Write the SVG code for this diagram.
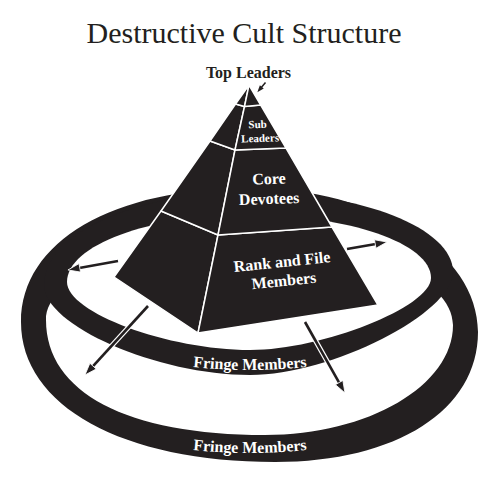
<svg xmlns="http://www.w3.org/2000/svg" xmlns:xlink="http://www.w3.org/1999/xlink" width="499" height="478" viewBox="0 0 499 478">
<style>
.ink{fill:#231f20}
.face{fill:#231f20;stroke:#ffffff;stroke-width:1.5;stroke-linejoin:round}
.wt{fill:#ffffff;font-family:"Liberation Serif","Times New Roman",serif;font-weight:bold;text-anchor:middle}
.bt{fill:#231f20;font-family:"Liberation Serif","Times New Roman",serif;text-anchor:middle}
.case{stroke:#ffffff;stroke-width:5;fill:none}
.shaft{stroke:#231f20;stroke-width:2.6;fill:none}
</style>
<defs>
<marker id="ah" viewBox="0 0 14 10" refX="3" refY="5" markerWidth="14" markerHeight="10" markerUnits="userSpaceOnUse" orient="auto">
<path d="M1,0.7 L13,5 L1,9.3 Z" fill="#231f20" stroke="#ffffff" stroke-width="0.8"/>
</marker>
<marker id="ahs" viewBox="0 0 8 6" refX="2" refY="3" markerWidth="8" markerHeight="6" markerUnits="userSpaceOnUse" orient="auto">
<path d="M0.5,0.5 L7.5,3 L0.5,5.5 Z" fill="#231f20"/>
</marker>
<path id="arcUpper" d="M170,364 Q250,376 330,364"/>
<path id="arcLower" d="M170,447 Q250,459 330,447"/>
</defs>
<rect width="499" height="478" fill="#ffffff"/>
<text class="bt" x="244" y="43" font-size="30">Destructive Cult Structure</text>

<g id="fringe-outer">
<path class="ink" fill-rule="evenodd" d="M21,322 C21,406 122.6,462 275,462 C396.8,462 478,410 478,332 C478,252.8 375.4,188 250,188 C112.6,188 21,241.6 21,322 Z M46,320 C46,392.5 127,435 265,435 C368.4,435 453,385.5 453,325 C453,278.3 361.7,240 250,240 C137.8,240 46,276 46,320 Z"/>
<text class="wt" font-size="16"><textPath xlink:href="#arcLower" href="#arcLower" startOffset="50%">Fringe Members</textPath></text>
</g>

<g id="fringe-inner">
<path class="ink" d="M44,285 C44,325.5 157.3,375 250,375 C331.2,375 453,313.2 453,272 C453,228 361.2,192 249,192 C136.3,192 44,233.9 44,285 Z"/>
<path fill="#ffffff" d="M67,282 C67,312.6 167.7,350 250,350 C322.4,350 431,306.8 431,278 C431,243.4 349.1,215 249,215 C148.9,215 67,245.2 67,282 Z"/>
<text class="wt" font-size="16"><textPath xlink:href="#arcUpper" href="#arcUpper" startOffset="50%">Fringe Members</textPath></text>
</g>

<g id="rank-and-file">
<polygon class="face" points="161,211 114,277 198,333 218,235"/>
<polygon class="face" points="218,235 198,333 378,305 332,227"/>
<g transform="rotate(-6 283.5 276)">
<text class="wt" x="283.5" y="267" font-size="16">Rank and File</text>
<text class="wt" x="283.5" y="286" font-size="16">Members</text>
</g>
</g>

<g id="core-devotees">
<polygon class="face" points="210,141 161,211 218,235 235,150"/>
<polygon class="face" points="235,150 218,235 332,227 286,148"/>
<g transform="rotate(-2 269 195)">
<text class="wt" x="269.5" y="184" font-size="16">Core</text>
<text class="wt" x="269" y="204" font-size="16">Devotees</text>
</g>
</g>

<g id="sub-leaders">
<polygon class="face" points="235.5,104 210,141 235,150 244.5,106.5"/>
<polygon class="face" points="244.5,106.5 235,150 286,148 260.7,105"/>
<g transform="rotate(-2 259 135)">
<text class="wt" x="258" y="128" font-size="11">Sub</text>
<text class="wt" x="260" y="142" font-size="11">Leaders</text>
</g>
</g>

<g id="top-leaders">
<polygon class="face" points="249,85 235.5,104 244.5,106.5"/>
<polygon class="face" points="249,85 244.5,106.5 260.7,105"/>
<text class="bt" x="248.5" y="78" font-size="16" font-weight="bold">Top Leaders</text>
</g>

<g id="connectors">
<path class="case" d="M118,261 L77.8,268.2"/>
<path class="shaft" d="M118,261 L77.8,268.2" marker-end="url(#ah)"/>
<path class="case" d="M347,249 L377.2,243.7"/>
<path class="shaft" d="M347,249 L377.2,243.7" marker-end="url(#ah)"/>
<path class="case" d="M148,306 L91.7,367.6"/>
<path class="shaft" d="M148,306 L91.7,367.6" marker-end="url(#ah)"/>
<path class="case" d="M305,322 L340.1,384.3"/>
<path class="shaft" d="M305,322 L340.1,384.3" marker-end="url(#ah)"/>
<path d="M265.5,82.5 L260.85,88.1" stroke="#231f20" stroke-width="1.5" fill="none" marker-end="url(#ahs)"/>
</g>
</svg>
